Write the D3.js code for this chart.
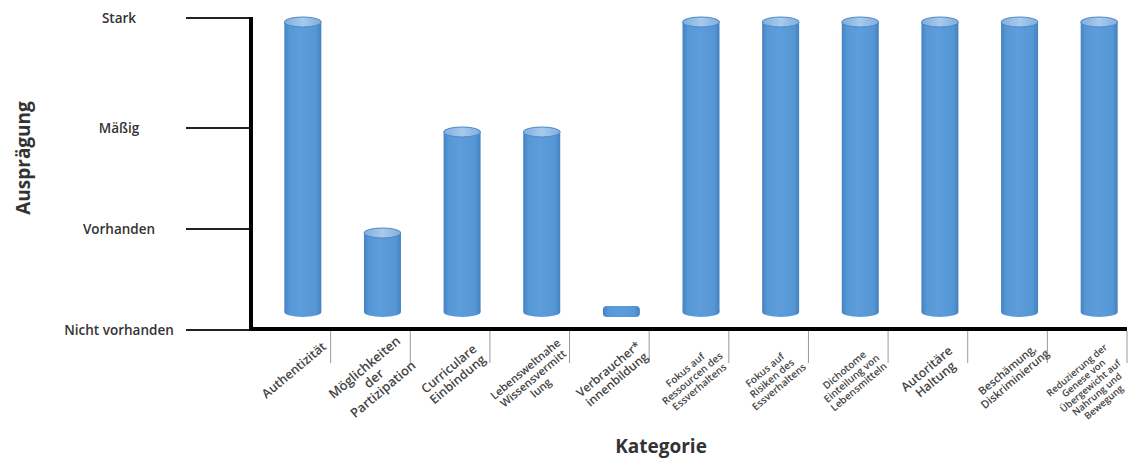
<!DOCTYPE html>
<html lang="de">
<head>
<meta charset="utf-8">
<script src="https://cdn.jsdelivr.net/npm/d3@7"></script>
<style>
  html, body { margin: 0; padding: 0; background: #fff; }
  svg { display: block; font-family: "Open Sans", "Noto Sans", sans-serif; }
</style>
</head>
<body>
<svg id="chart" width="1129" height="461"></svg>
<script>
// Kategorien der Analyse (x-Achse)
const categories = [
  "Authentizität",
  "Möglichkeiten der Partizipation",
  "Curriculare Einbindung",
  "Lebensweltnahe Wissensvermittlung",
  "Verbraucher*innenbildung",
  "Fokus auf Ressourcen des Essverhaltens",
  "Fokus auf Risiken des Essverhaltens",
  "Dichotome Einteilung von Lebensmitteln",
  "Autoritäre Haltung",
  "Beschämung, Diskriminierung",
  "Reduzierung der Genese von Übergewicht auf Nahrung und Bewegung"
];

// Umbrochene Beschriftung je Kategorie
const categoryLabelLines = [
  ["Authentizität"],
  ["Möglichkeiten", "der", "Partizipation"],
  ["Curriculare", "Einbindung"],
  ["Lebensweltnahe", "Wissensvermitt", "lung"],
  ["Verbraucher*", "innenbildung"],
  ["Fokus auf", "Ressourcen des", "Essverhaltens"],
  ["Fokus auf", "Risiken des", "Essverhaltens"],
  ["Dichotome", "Einteilung von", "Lebensmitteln"],
  ["Autoritäre", "Haltung"],
  ["Beschämung,", "Diskriminierung"],
  ["Reduzierung der", "Genese von", "Übergewicht auf", "Nahrung und", "Bewegung"]
];

// Ausprägung je Kategorie (0 = nicht vorhanden … 3 = stark)
const values = [3, 1, 2, 2, 0, 3, 3, 3, 3, 3, 3];

// Stufen der y-Achse
const levelValues = [0, 1, 2, 3];
const levelLabels = ["Nicht vorhanden", "Vorhanden", "Mäßig", "Stark"];

// ---- Darstellung ----
const svg = d3.select("#chart");

const axisLeft = 251, axisRight = 1127, axisBottom = 330;
const levelPositions = [330, 229, 128, 18];
const labelSizes = [12.5, 13, 12.5, 11, 12, 10, 10, 10, 12.5, 11, 9.5];

const x = d3.scaleBand()
  .domain(categories)
  .range([axisLeft, axisRight])
  .padding(0);

const y = d3.scaleLinear()
  .domain(levelValues)
  .range(levelPositions);

const barW = 37, rx = barW / 2, ry = 5, barShift = 12;
const barCenter = c => x(c) + x.bandwidth() / 2 + barShift;
const baseCenter = y(0) - 18;

// Verläufe für die Zylinder
const defs = svg.append("defs");
const bodyGrad = defs.append("linearGradient").attr("id", "bodyGrad")
  .attr("x1", "0%").attr("x2", "100%").attr("y1", "0%").attr("y2", "0%");
[["0%", "#4682c2"], ["14%", "#5697d6"], ["45%", "#5d9ddb"], ["86%", "#5596d5"], ["100%", "#4580bf"]]
  .forEach(([o, c]) => bodyGrad.append("stop").attr("offset", o).attr("stop-color", c));
const topGrad = defs.append("linearGradient").attr("id", "topGrad")
  .attr("x1", "0%").attr("x2", "100%").attr("y1", "0%").attr("y2", "0%");
[["0%", "#7eaee0"], ["50%", "#a8caec"], ["100%", "#7eaee0"]]
  .forEach(([o, c]) => topGrad.append("stop").attr("offset", o).attr("stop-color", c));

// Zylinder
const bars = svg.append("g").attr("class", "bars")
  .selectAll("g").data(categories).join("g");

bars.each(function (c, i) {
  const g = d3.select(this);
  const cx = barCenter(c);
  const flat = values[i] <= 0;
  const topC = flat ? baseCenter - 1 : y(values[i]) + 4;
  g.append("rect")
    .attr("x", cx - rx).attr("y", topC - (flat ? ry : 0))
    .attr("width", barW).attr("height", baseCenter - topC + (flat ? 2 * ry : 0))
    .attr("rx", flat ? 4 : 0)
    .attr("fill", "url(#bodyGrad)");
  if (!flat) {
    g.append("ellipse")
      .attr("cx", cx).attr("cy", baseCenter)
      .attr("rx", rx).attr("ry", ry)
      .attr("fill", "url(#bodyGrad)");
    g.append("ellipse")
      .attr("cx", cx).attr("cy", topC)
      .attr("rx", rx).attr("ry", ry)
      .attr("fill", "url(#topGrad)")
      .attr("stroke", "#4f88c4").attr("stroke-width", 1);
  }
});

// y-Achse: Stufenstriche und Beschriftung
const yTicks = svg.append("g").attr("class", "y-levels");
yTicks.selectAll("line").data(levelValues).join("line")
  .attr("x1", 186).attr("x2", axisLeft)
  .attr("y1", d => y(d)).attr("y2", d => y(d))
  .attr("stroke", "#222").attr("stroke-width", 2);
yTicks.selectAll("text").data(levelValues).join("text")
  .attr("x", 119).attr("y", d => y(d))
  .attr("text-anchor", "middle").attr("dominant-baseline", "central")
  .attr("font-size", 13.5).attr("font-weight", 600).attr("fill", "#333")
  .text((d, i) => levelLabels[i]);

// Achsenlinien
svg.append("line")
  .attr("x1", axisLeft).attr("x2", axisLeft)
  .attr("y1", y(3) - 1).attr("y2", axisBottom + 1)
  .attr("stroke", "#000").attr("stroke-width", 4);
svg.append("line")
  .attr("x1", axisLeft - 2).attr("x2", axisRight)
  .attr("y1", axisBottom - 1).attr("y2", axisBottom - 1)
  .attr("stroke", "#000").attr("stroke-width", 4);

// Trennstriche zwischen den Kategorien
svg.append("g").attr("class", "x-separators")
  .selectAll("line").data(categories).join("line")
  .attr("x1", c => x(c) + x.bandwidth()).attr("x2", c => x(c) + x.bandwidth())
  .attr("y1", axisBottom + 1).attr("y2", axisBottom + 33)
  .attr("stroke", "#999").attr("stroke-width", 1);

// Kategorienbeschriftung, um 40° gedreht und als Block zentriert
const labels = svg.append("g").attr("class", "x-labels")
  .selectAll("g").data(categories).join("g")
  .attr("transform", (c, i) => {
    const n = categoryLabelLines[i].length;
    return `translate(${barCenter(c) - 9},${axisBottom + 40 + (n - 1) * 4}) rotate(-40)`;
  });
labels.each(function (c, i) {
  const fs = labelSizes[i];
  const lines = categoryLabelLines[i];
  const lh = fs * 1.1;
  const off = (lines.length - 1) * lh / 2;
  d3.select(this).selectAll("text").data(lines).join("text")
    .attr("x", 0).attr("y", (d, j) => j * lh - off)
    .attr("text-anchor", "middle").attr("dominant-baseline", "central")
    .attr("font-size", fs).attr("font-weight", 600).attr("fill", "#444")
    .text(d => d);
});

// Achsentitel
svg.append("text")
  .attr("x", 661).attr("y", 446)
  .attr("text-anchor", "middle").attr("dominant-baseline", "central")
  .attr("font-size", 19).attr("font-weight", 700).attr("fill", "#333")
  .text("Kategorie");
svg.append("text")
  .attr("transform", "translate(23,158) rotate(-90)")
  .attr("text-anchor", "middle").attr("dominant-baseline", "central")
  .attr("font-size", 19).attr("font-weight", 700).attr("fill", "#333")
  .text("Ausprägung");
</script>
</body>
</html>
